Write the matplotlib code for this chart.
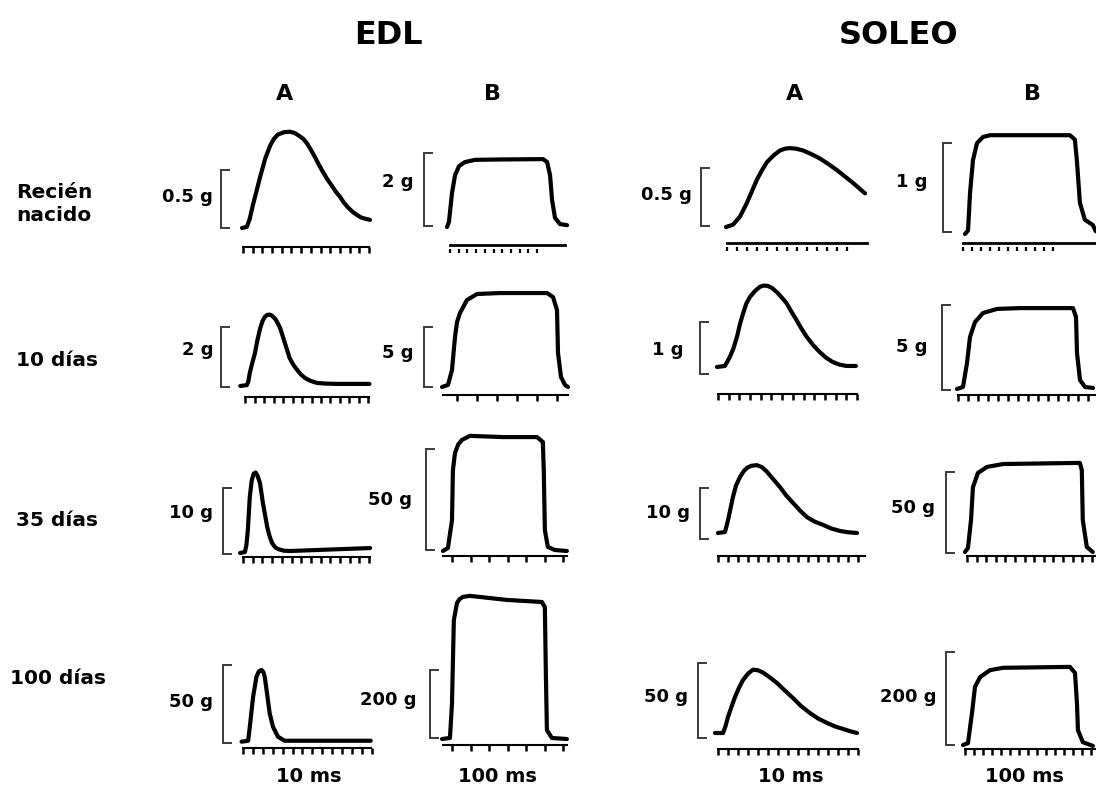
import numpy as np
import matplotlib.pyplot as plt

plt.rcParams['font.family'] = ['DejaVu Sans']
plt.rcParams['font.weight'] = 'bold'

W, H = 1096, 791

# ---------------- data ----------------
muscles = ['EDL', 'SOLEO']
col_names = ['A', 'B']
ages = ['Recién\nnacido', '10 días', '35 días', '100 días']
time_labels = ['10 ms', '100 ms']
tick_ms = [10, 100]          # A: 10 ms por marca, B: 100 ms por marca

# barras de escala (g)
edl_a_scale = [0.5, 2, 10, 50]
edl_b_scale = [2, 5, 50, 200]
sol_a_scale = [0.5, 1, 10, 50]
sol_b_scale = [1, 5, 50, 200]

# EDL A: sacudida simple, tiempo (ms) / fuerza (g)
edl_a_t = [
    [-1, 4, 7, 10, 14, 18, 23, 28, 32, 36, 42, 48, 53, 57, 62, 66, 70, 74, 78, 82, 87, 92, 96,
     100, 104, 108, 113, 118, 122, 126, 131],
    [-5, 2, 3.5, 5, 7.5, 10.5, 13, 16, 18.5, 21, 23.5, 26, 28.5, 31.5, 34, 37, 42, 47, 51, 55,
     59, 63, 69, 76, 85, 97, 131],
    [-3, 2, 3.5, 5, 7, 9, 11, 13, 15, 17.5, 20.5, 25, 27.5, 30, 33, 36, 42, 48, 131],
    [-1.3, 5.3, 7, 10.3, 13.7, 16, 18.7, 20.5, 22, 24.3, 27, 30.3, 35.3, 42, 128.7],
]
edl_a_f = [
    [0, 0.01, 0.08, 0.19, 0.32, 0.45, 0.60, 0.71, 0.77, 0.805, 0.825, 0.83, 0.82, 0.80, 0.77,
     0.73, 0.675, 0.615, 0.55, 0.49, 0.42, 0.36, 0.31, 0.27, 0.22, 0.18, 0.14, 0.11, 0.09, 0.08, 0.07],
    [0, 0.03, 0.15, 0.43, 0.75, 1.10, 1.52, 1.93, 2.17, 2.31, 2.37, 2.38, 2.34, 2.25, 2.12, 1.93,
     1.43, 0.93, 0.70, 0.53, 0.38, 0.27, 0.17, 0.10, 0.08, 0.07, 0.07],
    [0, 0.15, 1.2, 3.5, 8.5, 11.0, 12.0, 12.2, 11.7, 10.6, 7.6, 3.9, 2.5, 1.5, 0.9, 0.6, 0.35, 0.3, 0.75],
    [0.2, 0.8, 9.8, 29.0, 41.9, 45.2, 46.2, 45.0, 41.9, 31.2, 18.4, 9.8, 3.4, 0.8, 0.8],
]

# EDL B: tétanos
edl_b_t = [
    [-34, -12, 23, 58, 104, 173, 288, 575, 1069, 1116, 1150, 1173, 1207, 1265, 1346],
    [25, 55, 75, 90, 100, 115, 150, 200, 315, 550, 580, 600, 605, 620, 640, 655],
    [51, 78, 100, 105, 116, 134, 154, 197, 375, 559, 591, 596, 602, 618, 656, 721],
    [46, 89, 100, 110, 127, 140, 159, 197, 397, 586, 602, 607, 613, 640, 721],
]
edl_b_f = [
    [0, 0.14, 0.93, 1.42, 1.67, 1.78, 1.84, 1.85, 1.86, 1.78, 1.42, 0.74, 0.25, 0.08, 0.05],
    [0, 0.17, 1.42, 4.17, 5.4, 6.17, 7.25, 7.75, 7.83, 7.83, 7.5, 6.42, 2.83, 0.83, 0.17, 0],
    [0, 1.5, 15.3, 40, 48.5, 52.8, 55, 57, 56.4, 56.4, 54, 40, 10.4, 2, 0.5, 0],
    [0, 3, 106, 350, 400, 411, 418, 421, 409, 403, 388, 203, 26, 3, 0],
]

# SOLEO A
sol_a_t = [
    [-1, 6, 13, 20, 25, 30, 35, 40, 47, 53, 58, 63, 69, 76, 84, 93, 101, 110, 118, 126, 138],
    [-1, 6.5, 11, 14.5, 18, 20.5, 23, 26.5, 30, 34.5, 39, 42.5, 46.5, 50.5, 55, 59.5, 64, 68.5,
     73.5, 78, 83, 89, 95, 101, 107, 113, 120, 129],
    [0, 7, 10, 15, 18, 22, 26, 30, 34, 39, 44, 49, 55, 62, 68, 75, 82, 89, 97, 105, 113, 122, 130, 139],
    [-3, 5, 7.5, 10, 13.5, 17, 21, 25, 30, 35, 40, 45, 52, 59, 67, 75, 83, 92, 100, 109, 117,
     125, 132, 139],
]
sol_a_f = [
    [0, 0.02, 0.09, 0.21, 0.31, 0.41, 0.49, 0.56, 0.62, 0.66, 0.675, 0.68, 0.675, 0.66, 0.63,
     0.59, 0.545, 0.49, 0.435, 0.38, 0.29],
    [0, 0.02, 0.19, 0.36, 0.60, 0.82, 1.0, 1.22, 1.35, 1.46, 1.54, 1.565, 1.56, 1.52, 1.44, 1.34,
     1.23, 1.07, 0.90, 0.74, 0.58, 0.42, 0.29, 0.18, 0.10, 0.05, 0.02, 0.02],
    [0, 0.2, 2.5, 7.1, 9.3, 11, 12.2, 12.9, 13.2, 13.3, 12.9, 12, 10.6, 9, 7.4, 5.9, 4.4, 3.1,
     2.2, 1.6, 0.9, 0.4, 0.15, 0],
    [0, 0, 4.5, 10.7, 17.5, 24, 30.2, 35.3, 39.6, 42.2, 41.8, 40.3, 37, 33.3, 28.2, 23.3, 18,
     13.3, 9.7, 6.7, 4.4, 2.7, 1.2, 0],
]

# SOLEO B
sol_b_t = [
    [22, 56, 78, 111, 155, 222, 300, 1188, 1243, 1265, 1299, 1354, 1443, 1476],
    [-10, 50, 90, 120, 170, 250, 390, 620, 1150, 1180, 1190, 1220, 1270, 1350],
    [-21, 10, 42, 62, 114, 208, 374, 1175, 1196, 1206, 1248, 1310],
    [-22, 33, 78, 111, 167, 278, 422, 1166, 1222, 1244, 1255, 1310, 1421],
]
sol_b_f = [
    [0, 0.04, 0.46, 0.83, 1.02, 1.09, 1.11, 1.11, 1.06, 0.83, 0.35, 0.16, 0.10, 0.03],
    [0, 0.12, 1.53, 3.06, 3.94, 4.47, 4.71, 4.76, 4.76, 4.24, 2.12, 0.53, 0.12, 0.06],
    [0, 2.5, 19.8, 40, 48.8, 52.5, 54.3, 55, 50.6, 19.8, 3.1, 0],
    [0, 4, 69, 125, 146, 161, 166, 168, 155, 90, 32, 6, -2],
]

# ---------------- layout (pixels) ----------------
# x0, px/marca, eje izq, eje der, eje y, linea base y, corchete x, corchete arriba, corchete abajo,
# etiqueta x, etiqueta y, primera marca, ultima marca, marcas punteadas
edl_a_lay = [
    (243, 9.7, 243, 369, 247, 228, 221, 170, 228, 213, 197, 0, 130, False),
    (245, 9.5, 245, 369, 397, 386, 221, 327, 387, 213, 350, 0, 130, False),
    (243, 9.7, 243, 370, 557, 553, 223, 488, 554, 213, 513, 0, 130, False),
    (243, 10.0, 243, 372, 748, 742, 223, 665, 743, 213, 702, 0, 130, False),
]
edl_b_lay = [
    (450, 8.7, 450, 565, 245, 227, 424, 153, 226, 413, 182, 0, 1000, True),
    (437, 20.0, 443, 568, 395, 387, 424, 327, 387, 413, 353, 100, 600, False),
    (433.5, 18.5, 443, 567, 556, 551, 426, 449, 550, 412, 500, 100, 700, False),
    (433.5, 18.5, 443, 567, 745, 739, 430, 670, 738, 417, 700, 100, 700, False),
]
sol_a_lay = [
    (727, 10.0, 727, 867, 243, 227, 701, 168, 226, 692, 195, 0, 120, True),
    (718, 10.7, 718, 857, 394, 367, 700, 322, 374, 683, 350, 0, 130, False),
    (718, 10.0, 718, 865, 556, 533, 700, 488, 539, 690, 513, 0, 140, False),
    (718, 10.0, 718, 858, 749, 733, 698, 663, 738, 688, 697, 0, 140, False),
]
sol_b_lay = [
    (963, 9.0, 963, 1096, 243, 234, 943, 143, 232, 928, 182, 0, 1000, True),
    (958, 10.0, 958, 1096, 395, 389, 942, 305, 390, 928, 347, 0, 1300, False),
    (967, 9.6, 967, 1096, 556, 552, 946, 472, 553, 935, 508, 0, 1300, False),
    (965, 9.0, 965, 1096, 749, 745, 946, 652, 745, 937, 697, 0, 1400, False),
]

fig = plt.figure(figsize=(W / 100, H / 100), dpi=100)


def draw_panel(t, f, scale, tms, lay):
    x0, tpx, al, ar, ay, by, bx, btop, bbot, lx, ly, t_first, t_last, dotted = lay
    kx = tpx / tms               # px por ms
    ky = (bbot - btop) / scale   # px por g
    top = by - 140
    ax = fig.add_axes([bx / W, 1 - ay / H, (ar - bx) / W, (ay - top) / H])
    ax.set_xlim((bx - x0) / kx, (ar - x0) / kx)
    ax.set_ylim(-(ay - by) / ky, (by - top) / ky)
    ax.patch.set_visible(False)
    for s in ['top', 'right', 'left']:
        ax.spines[s].set_visible(False)
    ax.spines['bottom'].set_bounds((al - x0) / kx, (ar - x0) / kx)
    ax.spines['bottom'].set_linewidth(2.0 if dotted else 1.5)
    ticks = np.arange(t_first, t_last + 1, tms)
    ax.set_xticks(ticks)
    ax.set_yticks([])
    ax.tick_params(axis='x', direction='out', length=0 if dotted else 4,
                   width=1.8, labelbottom=False)
    if dotted:
        ax.plot(ticks, np.full(len(ticks), -(ay - by + 6) / ky), ls='none',
                marker='|', ms=3, mew=1.6, color='black', clip_on=False)

    # corchete de escala
    fb = (by - bbot) / ky
    arm = 8 / kx
    xb = (bx - x0) / kx
    ax.plot([xb + arm, xb, xb, xb + arm], [fb + scale, fb + scale, fb, fb],
            color='#3a3a3a', lw=1.4, clip_on=False, solid_joinstyle='miter')
    fig.text(lx / W, 1 - ly / H, f'{scale:g} g', ha='right', va='center', fontsize=13)

    # registro
    ax.plot(t, f, color='black', lw=3.0, solid_joinstyle='round',
            solid_capstyle='round', clip_on=False)


panels = [
    (edl_a_t, edl_a_f, edl_a_scale, tick_ms[0], edl_a_lay),
    (edl_b_t, edl_b_f, edl_b_scale, tick_ms[1], edl_b_lay),
    (sol_a_t, sol_a_f, sol_a_scale, tick_ms[0], sol_a_lay),
    (sol_b_t, sol_b_f, sol_b_scale, tick_ms[1], sol_b_lay),
]
for ts, fs, scales, tms, lays in panels:
    for i in range(4):
        draw_panel(ts[i], fs[i], scales[i], tms, lays[i])

# textos
muscle_x = [388, 899]
header_x = [[285, 492], [795, 1033]]
time_x = [[309, 497], [791, 1024]]
for m in range(2):
    fig.text(muscle_x[m] / W, 1 - 35 / H, muscles[m], ha='center', va='center', fontsize=23)
    for c in range(2):
        fig.text(header_x[m][c] / W, 1 - 94 / H, col_names[c], ha='center', va='center', fontsize=16)
        fig.text(time_x[m][c] / W, 1 - 776 / H, time_labels[c], ha='center', va='center', fontsize=14)

age_x = [16, 16, 16, 10]
age_y = [204, 360, 520, 678]
for i, age in enumerate(ages):
    fig.text(age_x[i] / W, 1 - age_y[i] / H, age, ha='left', va='center', fontsize=14.5,
             linespacing=1.25)

fig.savefig('out.png', dpi=100, facecolor='white')
